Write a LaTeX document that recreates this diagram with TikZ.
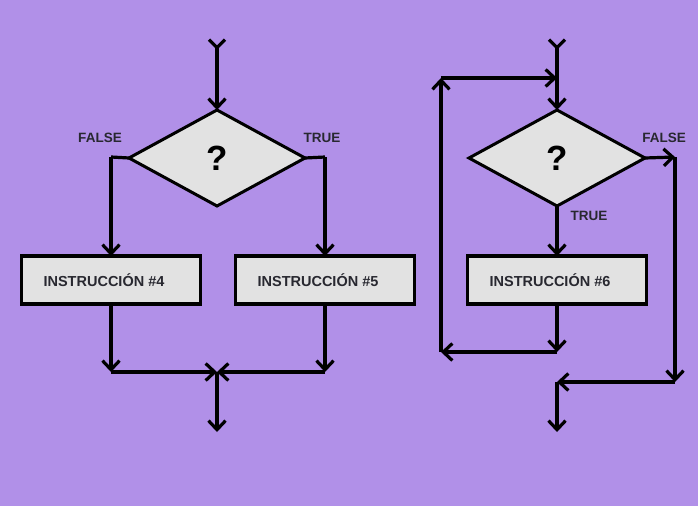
\documentclass[tikz,border=0pt]{standalone}
\usepackage{fontspec}
\setmainfont{Liberation Sans}
\usetikzlibrary{arrows.meta,shapes.geometric}
\definecolor{bgpurple}{RGB}{177,144,232}
\definecolor{boxgray}{RGB}{226,226,226}
\definecolor{txtdark}{RGB}{40,40,48}
\tikzset{
  barb/.tip={Straight Barb[length=9pt 0, width=17pt 0, line width=3.2pt]},
  rbarb/.tip={Straight Barb[reversed, length=8pt 0, width=16pt 0, line width=3.2pt]},
  conn/.style={line width=3.2pt, draw=black, -barb},
  ystartconn/.style={line width=3.2pt, draw=black, rbarb-barb},
  plainline/.style={line width=3.2pt, draw=black},
  decision/.style={diamond, draw=black, line width=3pt, fill=boxgray, minimum width=176pt, minimum height=96pt, inner sep=0pt, outer sep=0pt, aspect=1.83, font=\bfseries\fontsize{35}{37}\selectfont, text=black},
  instbox/.style={rectangle, draw=black, line width=3.2pt, fill=boxgray, minimum width=179pt, minimum height=48pt, inner sep=0pt, outer sep=0pt, font=\bfseries\fontsize{14.5}{16}\selectfont, text=txtdark},
  cond/.style={font=\bfseries\fontsize{13.5}{15}\selectfont, text=txtdark, inner sep=0pt}
}
\begin{document}
\begin{tikzpicture}[x=1pt,y=-1pt]
\fill[bgpurple] (0,0) rectangle (698,506);
\useasboundingbox (0,0) rectangle (698,506);

% ---------- left: selection ----------
\node[decision] (d1) at (217,158) {?};
\node[instbox] (b4) at (111,280) {INSTRUCCIÓN \#4\kern14pt};
\node[instbox] (b5) at (325,280) {INSTRUCCIÓN \#5\kern14pt};
\node[cond] (f1) at (100,138) {FALSE};
\node[cond] (t1) at (322,138) {TRUE};
\coordinate (s1) at (217,38);
\coordinate (fl) at (111,157);
\coordinate (tr) at (325,157);
\coordinate (m4) at (111,372);
\coordinate (m5) at (325,372);
\coordinate (mc) at (217,372);
\coordinate (e1) at (217,432);

\draw[ystartconn] (s1) -- (d1.north);
\draw[plainline] (d1.west) -- (fl);
\draw[conn] (fl) -- (b4.north);
\draw[plainline] (d1.east) -- (tr);
\draw[conn] (tr) -- (b5.north);
\draw[conn] (b4.south) -- (m4);
\draw[conn] (m4) -- (mc);
\draw[conn] (b5.south) -- (m5);
\draw[conn] (m5) -- (mc);
\draw[conn] (mc) -- (e1);

% ---------- right: loop ----------
\node[decision] (d2) at (557,158) {?};
\node[instbox] (b6) at (557,280) {INSTRUCCIÓN \#6\kern14pt};
\node[cond] (f2) at (664,138) {FALSE};
\node[cond] (t2) at (589,216) {TRUE};
\coordinate (s2) at (557,38);
\coordinate (j2) at (557,78);
\coordinate (lp) at (441,78);
\coordinate (lb) at (441,352);
\coordinate (bb) at (557,352);
\coordinate (rf) at (675,157);
\coordinate (rb) at (675,382);
\coordinate (mb) at (557,382);
\coordinate (e2) at (557,432);

\draw[ystartconn] (s2) -- (d2.north);
\draw[conn] (d2.south) -- (b6.north);
\draw[conn] (b6.south) -- (bb);
\draw[conn] (bb) -- (lb);
\draw[conn] (lb) -- (lp);
\draw[conn] (lp) -- (j2);
\draw[conn] (d2.east) -- (rf);
\draw[conn] (rf) -- (rb);
\draw[conn] (rb) -- (mb);
\draw[conn] (mb) -- (e2);
\end{tikzpicture}
\end{document}
